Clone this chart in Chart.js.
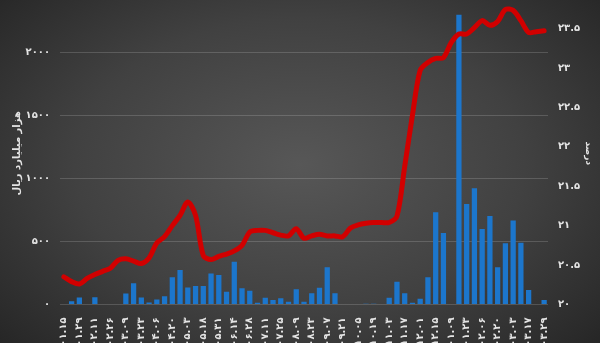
<!DOCTYPE html>
<html>
<head>
<meta charset="utf-8">
<script src="https://cdn.jsdelivr.net/npm/chart.js@4/dist/chart.umd.min.js"></script>
<style>
  html, body { margin: 0; padding: 0; overflow: hidden; }
  body {
    width: 600px; height: 343px;
    background: radial-gradient(ellipse 75% 85% at 50% 48%, #575757 0%, #414141 50%, #2a2a2a 85%, #1f1f1f 100%);
  }
  #wrap { position: relative; width: 600px; height: 343px; }
</style>
</head>
<body>
<div id="wrap"><canvas id="chart"></canvas></div>
<script>
// weekly dates, 1401-1402
const dates = [
  "۱۴۰۱.۰۱.۱۵", "۱۴۰۱.۰۱.۲۲", "۱۴۰۱.۰۱.۲۹", "۱۴۰۱.۰۲.۰۴", "۱۴۰۱.۰۲.۱۱", "۱۴۰۱.۰۲.۱۸",
  "۱۴۰۱.۰۲.۲۶", "۱۴۰۱.۰۳.۰۲", "۱۴۰۱.۰۳.۰۹", "۱۴۰۱.۰۳.۱۶", "۱۴۰۱.۰۳.۲۳", "۱۴۰۱.۰۳.۳۰",
  "۱۴۰۱.۰۴.۰۶", "۱۴۰۱.۰۴.۱۳", "۱۴۰۱.۰۴.۲۰", "۱۴۰۱.۰۴.۲۷", "۱۴۰۱.۰۵.۰۳", "۱۴۰۱.۰۵.۱۰",
  "۱۴۰۱.۰۵.۱۸", "۱۴۰۱.۰۵.۲۵", "۱۴۰۱.۰۵.۳۱", "۱۴۰۱.۰۶.۰۷", "۱۴۰۱.۰۶.۱۴", "۱۴۰۱.۰۶.۲۱",
  "۱۴۰۱.۰۶.۲۸", "۱۴۰۱.۰۷.۰۴", "۱۴۰۱.۰۷.۱۱", "۱۴۰۱.۰۷.۱۸", "۱۴۰۱.۰۷.۲۵", "۱۴۰۱.۰۸.۰۲",
  "۱۴۰۱.۰۸.۰۹", "۱۴۰۱.۰۸.۱۶", "۱۴۰۱.۰۸.۲۳", "۱۴۰۱.۰۸.۳۰", "۱۴۰۱.۰۹.۰۷", "۱۴۰۱.۰۹.۱۴",
  "۱۴۰۱.۰۹.۲۱", "۱۴۰۱.۰۹.۲۸", "۱۴۰۱.۱۰.۰۵", "۱۴۰۱.۱۰.۱۲", "۱۴۰۱.۱۰.۱۹", "۱۴۰۱.۱۰.۲۶",
  "۱۴۰۱.۱۱.۰۳", "۱۴۰۱.۱۱.۱۰", "۱۴۰۱.۱۱.۱۷", "۱۴۰۱.۱۱.۲۴", "۱۴۰۱.۱۲.۰۱", "۱۴۰۱.۱۲.۰۸",
  "۱۴۰۱.۱۲.۱۵", "۱۴۰۱.۱۲.۲۲", "۱۴۰۲.۰۱.۰۹", "۱۴۰۲.۰۱.۱۶", "۱۴۰۲.۰۱.۲۳", "۱۴۰۲.۰۱.۳۰",
  "۱۴۰۲.۰۲.۰۶", "۱۴۰۲.۰۲.۱۳", "۱۴۰۲.۰۲.۲۰", "۱۴۰۲.۰۲.۲۷", "۱۴۰۲.۰۳.۰۳", "۱۴۰۲.۰۳.۱۰",
  "۱۴۰۲.۰۳.۱۷", "۱۴۰۲.۰۳.۲۴", "۱۴۰۲.۰۳.۲۹"
];

// volume, thousand billion rials (left axis)
const volume = [
  0, 25, 55, 0, 58, 0, 4, 0, 88, 168,
  55, 15, 40, 65, 216, 274, 135, 147, 147, 246,
  234, 102, 340, 129, 110, 14, 54, 36, 49, 22,
  121, 22, 89, 133, 295, 89, 0, 0, 0, 6,
  6, 0, 54, 181, 89, 14, 46, 216, 732, 568,
  0, 2298, 798, 922, 600, 702, 295, 486, 667, 490,
  115, 4, 36
];

// rate, percent (right axis)
const rate = [
  20.35, 20.29, 20.26, 20.33, 20.38, 20.42, 20.46, 20.56, 20.58, 20.55,
  20.52, 20.59, 20.78, 20.86, 21.00, 21.13, 21.30, 21.13, 20.62, 20.57,
  20.61, 20.64, 20.68, 20.75, 20.92, 20.94, 20.94, 20.91, 20.88, 20.87,
  20.96, 20.84, 20.87, 20.89, 20.87, 20.87, 20.86, 20.97, 21.01, 21.03,
  21.04, 21.04, 21.04, 21.12, 21.75, 22.40, 22.97, 23.07, 23.12, 23.13,
  23.32, 23.43, 23.43, 23.51, 23.60, 23.54, 23.59, 23.74, 23.73, 23.60,
  23.45, 23.46, 23.47
];

const leftTicks = [0, 500, 1000, 1500, 2000];
const rightTicks = [20, 20.5, 21, 21.5, 22, 22.5, 23, 23.5];

const leftTitle = "هزار میلیارد ریال";
const rightTitle = "درصد";

const faDigits = "۰۱۲۳۴۵۶۷۸۹";
const toFa = v => String(v).replace(/\d/g, d => faDigits[d]);

// fixed box sizes so the plot area sits where it should
const fixBox = (w, h) => s => {
  if (w != null) s.width = w;
  if (h != null) s.height = h;
  s.paddingTop = 0; s.paddingBottom = 0; s.paddingLeft = 0; s.paddingRight = 0;
};

Chart.defaults.font.family = "'DejaVu Sans', sans-serif";
Chart.defaults.font.weight = "bold";
Chart.defaults.font.size = 10;
Chart.defaults.color = "#e4e4e4";

new Chart(document.getElementById("chart"), {
  data: {
    labels: dates,
    datasets: [
      {
        type: "line",
        data: rate,
        yAxisID: "yr",
        borderColor: "#d10000",
        borderWidth: 5,
        pointRadius: 0,
        tension: 0.3,
        borderCapStyle: "round",
        borderJoinStyle: "round"
      },
      {
        type: "bar",
        data: volume,
        yAxisID: "y",
        backgroundColor: "#1c76cc",
        categoryPercentage: 1,
        barPercentage: 0.68
      }
    ]
  },
  options: {
    responsive: true,
    maintainAspectRatio: false,
    animation: false,
    layout: { padding: { top: 2, left: 0, right: 0, bottom: 0 } },
    plugins: { legend: { display: false }, tooltip: { enabled: false } },
    scales: {
      x: {
        grid: { display: false },
        border: { display: false },
        ticks: {
          autoSkip: false,
          minRotation: 90,
          maxRotation: 90,
          padding: 5,
          font: { size: 10 },
          callback: (v, i) => (i % 2 === 0 ? dates[i] : "")
        },
        afterFit: fixBox(null, 38.5)
      },
      y: {
        position: "left",
        min: 0,
        max: 2400,
        grid: { color: "rgba(255,255,255,0.16)", drawTicks: false },
        border: { display: false },
        ticks: { padding: 10, callback: v => toFa(v) },
        afterBuildTicks: s => { s.ticks = leftTicks.map(v => ({ value: v })); },
        title: { display: true, text: leftTitle, padding: { top: 11, bottom: 0 }, font: { size: 10 } },
        afterFit: fixBox(60, null)
      },
      yr: {
        position: "right",
        min: 20,
        max: 23.836,
        grid: { drawOnChartArea: false, drawTicks: false },
        border: { display: false },
        ticks: { padding: 10, callback: v => toFa(v) },
        afterBuildTicks: s => { s.ticks = rightTicks.map(v => ({ value: v })); },
        title: { display: true, text: rightTitle, padding: { top: 6, bottom: 0 }, font: { size: 9 } },
        afterFit: fixBox(52, null)
      }
    }
  }
});
</script>
</body>
</html>
